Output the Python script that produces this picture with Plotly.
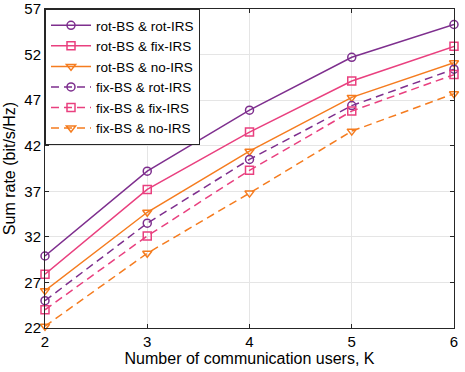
import plotly.graph_objects as go

users = [2, 3, 4, 5, 6]

rot_bs_rot_irs = [29.9, 39.2, 45.9, 51.7, 55.3]
rot_bs_fix_irs = [27.9, 37.2, 43.5, 49.1, 52.9]
rot_bs_no_irs = [26.1, 34.7, 41.4, 47.3, 51.1]
fix_bs_rot_irs = [25.0, 33.5, 40.5, 46.4, 50.4]
fix_bs_fix_irs = [24.0, 32.1, 39.3, 45.8, 49.8]
fix_bs_no_irs = [22.2, 30.2, 36.8, 43.6, 47.7]

y_ticks = [22, 27, 32, 37, 42, 47, 52, 57]

PURPLE = "#7E2F8E"
PINK = "#E9407F"
ORANGE = "#F57C1F"

series = [
    ("rot-BS & rot-IRS", rot_bs_rot_irs, PURPLE, "circle-open", "solid"),
    ("rot-BS & fix-IRS", rot_bs_fix_irs, PINK, "square-open", "solid"),
    ("rot-BS & no-IRS", rot_bs_no_irs, ORANGE, "triangle-down-open", "solid"),
    ("fix-BS & rot-IRS", fix_bs_rot_irs, PURPLE, "circle-open", "8px,5px"),
    ("fix-BS & fix-IRS", fix_bs_fix_irs, PINK, "square-open", "8px,5px"),
    ("fix-BS & no-IRS", fix_bs_no_irs, ORANGE, "triangle-down-open", "8px,5px"),
]

fig = go.Figure()
for name, vals, color, symbol, dash in series:
    fig.add_trace(go.Scatter(
        x=users, y=vals, name=name, mode="lines+markers",
        line=dict(color=color, width=1.5, dash=dash),
        marker=dict(symbol=symbol, size=8, color=color, line=dict(width=1.5, color=color)),
        cliponaxis=False,
    ))

axis_common = dict(
    showgrid=True, gridcolor="#E5E5E5", gridwidth=1,
    showline=True, linecolor="#262626", linewidth=1, mirror="ticks",
    ticks="inside", ticklen=4, tickcolor="#262626",
    zeroline=False, tickfont=dict(size=15, color="#000000"),
    automargin=False,
)

fig.update_layout(
    width=465, height=372,
    margin=dict(l=45, r=11, t=9, b=44),
    paper_bgcolor="white", plot_bgcolor="white",
    font=dict(family="Liberation Sans, Arial, sans-serif", size=14, color="#000000"),
    xaxis=dict(
        range=[2, 6], tickvals=users,
        title=dict(text="Number of communication users, K", font=dict(size=16), standoff=2),
        **axis_common,
    ),
    yaxis=dict(
        range=[22, 57], tickvals=y_ticks,
        title=dict(text="Sum rate (bit/s/Hz)", font=dict(size=16), standoff=4),
        **axis_common,
    ),
    legend=dict(
        x=0, y=1, xanchor="left", yanchor="top",
        bgcolor="white", bordercolor="#262626", borderwidth=1,
        font=dict(size=13.5), tracegroupgap=0, itemwidth=40,
    ),
    showlegend=True,
)

# page body has a default 8px margin; drop it so the figure sits at the corner
fig.write_html(
    "out.html",
    config={"displayModeBar": False},
    post_script="document.body.style.margin='0';",
)
